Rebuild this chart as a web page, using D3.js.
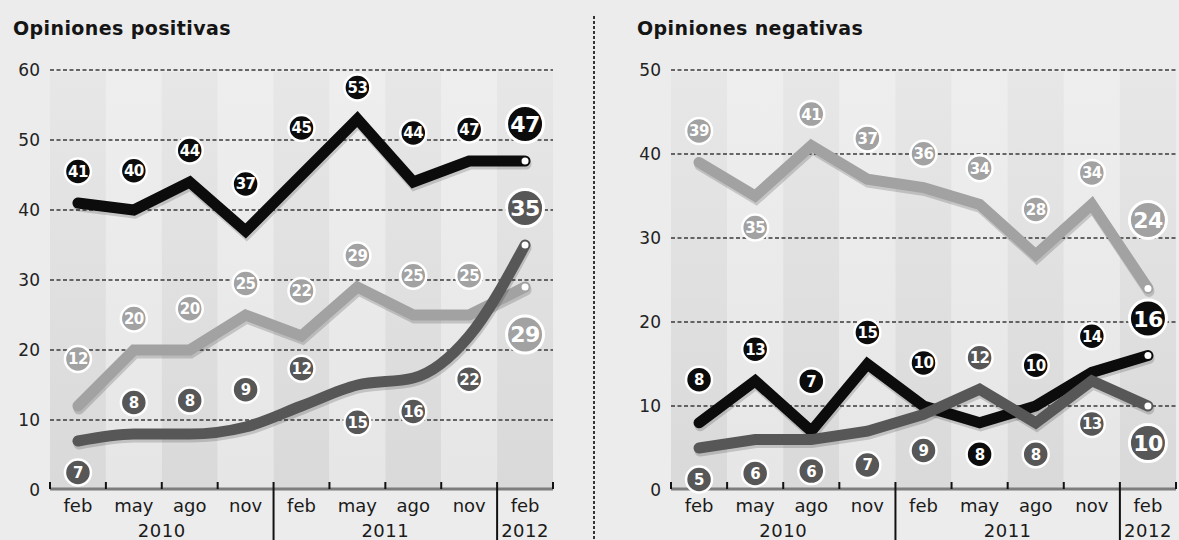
<!DOCTYPE html>
<html>
<head>
<meta charset="utf-8">
<script src="https://cdn.jsdelivr.net/npm/d3@7"></script>
<style>
  body { margin: 0; background: #ececec; }
  text { font-family: "DejaVu Sans", sans-serif; }
</style>
</head>
<body>
<div id="vis"></div>
<script>
// Frame
const FRAME_WIDTH = 1179;
const FRAME_HEIGHT = 540;
const AXIS_Y = 490;
const TOP_Y = 70;

// Data
const MONTHS = ["feb", "may", "ago", "nov", "feb", "may", "ago", "nov", "feb"];
const YEARS = ["2010", "2011", "2012"];
const YEAR_FIRST = [0, 4, 8];
const YEAR_LAST = [3, 7, 8];

const POS_TICKS = [0, 10, 20, 30, 40, 50, 60];
const POS_BLACK = [41, 40, 44, 37, 45, 53, 44, 47, 47];
const POS_LIGHT = [12, 20, 20, 25, 22, 29, 25, 25, 29];
const POS_DARK = [7, 8, 8, 9, 12, 15, 16, 22, 35];
const POS_BLACK_SIDE = ["u", "u", "u", "u", "u", "u", "u", "u", "u"];
const POS_LIGHT_SIDE = ["u", "u", "u", "u", "u", "u", "u", "u", "d"];
const POS_DARK_SIDE = ["d", "u", "u", "u", "u", "d", "d", "d", "u"];

const NEG_TICKS = [0, 10, 20, 30, 40, 50];
const NEG_LIGHT = [39, 35, 41, 37, 36, 34, 28, 34, 24];
const NEG_BLACK = [8, 13, 7, 15, 10, 8, 10, 14, 16];
const NEG_DARK = [5, 6, 6, 7, 9, 12, 8, 13, 10];
const NEG_LIGHT_SIDE = ["u", "d", "u", "u", "u", "u", "u", "u", "u"];
const NEG_BLACK_SIDE = ["u", "u", "u", "u", "u", "d", "u", "u", "u"];
const NEG_DARK_SIDE = ["d", "d", "d", "d", "d", "u", "d", "d", "d"];

const COLORS = { black: "#0c0c0c", light: "#a2a2a2", dark: "#575757" };

const FRAME = d3.select("#vis")
  .append("svg")
    .attr("width", FRAME_WIDTH)
    .attr("height", FRAME_HEIGHT);

const defs = FRAME.append("defs");
function grad(id, top, bottom) {
  const g = defs.append("linearGradient").attr("id", id)
    .attr("x1", 0).attr("y1", 0).attr("x2", 0).attr("y2", 1);
  g.append("stop").attr("offset", "0%").attr("stop-color", top);
  g.append("stop").attr("offset", "100%").attr("stop-color", bottom);
}
grad("bandDark", "#e7e7e7", "#d9d9d9");
grad("bandLight", "#eeeeee", "#e6e6e6");

// distance from point to label centre, so the circle clears the thick line
function labelDy(vals, i, side, R, X, Y) {
  const step = X.step();
  const cy = Y(vals[i]);
  let ext = 0;
  [-1, 1].forEach(d => {
    const j = i + d;
    if (j < 0 || j >= vals.length) return;
    const ny = cy + (Y(vals[j]) - cy) * R / step;
    ext = Math.max(ext, side == "u" ? cy - ny : ny - cy);
  });
  return (R + 16 + ext) * (side == "u" ? -1 : 1);
}

function drawPanel(p) {
  const G = FRAME.append("g");

  const X = d3.scaleBand()
    .domain(d3.range(MONTHS.length))
    .range([p.left, p.right])
    .paddingInner(0).paddingOuter(0);
  const Y = d3.scaleLinear()
    .domain([0, d3.max(p.ticks)])
    .range([AXIS_Y, TOP_Y]);
  const cx = i => X(i) + X.bandwidth() / 2;

  // title
  G.append("text")
    .attr("x", p.titleX).attr("y", 35)
    .attr("font-size", "19px").attr("font-weight", "bold")
    .attr("letter-spacing", "0.4px")
    .attr("fill", "#151515")
    .text(p.title);

  // column bands
  G.selectAll(".band")
    .data(d3.range(MONTHS.length))
    .enter()
    .append("rect")
      .attr("x", d => X(d))
      .attr("y", Y(d3.max(p.ticks)) + 2)
      .attr("width", X.bandwidth())
      .attr("height", AXIS_Y - Y(d3.max(p.ticks)) - 2)
      .attr("fill", d => d % 2 == 0 ? "url(#bandDark)" : "url(#bandLight)");

  // grid + y labels
  G.selectAll(".grid")
    .data(p.ticks.filter(t => t > 0))
    .enter()
    .append("line")
      .attr("x1", p.left).attr("x2", p.right)
      .attr("y1", d => Y(d)).attr("y2", d => Y(d))
      .attr("stroke", "#3a3a3a")
      .attr("stroke-width", 1.3)
      .attr("stroke-dasharray", "4,2.5");

  G.selectAll(".ylab")
    .data(p.ticks)
    .enter()
    .append("text")
      .attr("x", p.left - 10)
      .attr("y", d => Y(d))
      .attr("dy", "0.36em")
      .attr("text-anchor", "end")
      .attr("font-size", "17px")
      .attr("fill", "#222")
      .text(d => d);

  // x axis
  G.append("line")
    .attr("x1", p.left).attr("x2", p.right)
    .attr("y1", AXIS_Y - 1).attr("y2", AXIS_Y - 1)
    .attr("stroke", "#7d7d7d").attr("stroke-width", 3);

  const bounds = d3.range(MONTHS.length + 1);
  G.selectAll(".tick")
    .data(bounds.filter(b => !YEAR_FIRST.slice(1).includes(b)))
    .enter()
    .append("line")
      .attr("x1", d => d < MONTHS.length ? X(d) : p.right)
      .attr("x2", d => d < MONTHS.length ? X(d) : p.right)
      .attr("y1", AXIS_Y - 8).attr("y2", AXIS_Y - 1)
      .attr("stroke", "#111").attr("stroke-width", 2);

  G.selectAll(".sep")
    .data(YEAR_FIRST.slice(1))
    .enter()
    .append("line")
      .attr("x1", d => X(d)).attr("x2", d => X(d))
      .attr("y1", AXIS_Y - 8).attr("y2", FRAME_HEIGHT)
      .attr("stroke", "#111").attr("stroke-width", 2);

  G.selectAll(".month")
    .data(MONTHS)
    .enter()
    .append("text")
      .attr("x", (d, i) => cx(i))
      .attr("y", 512)
      .attr("text-anchor", "middle")
      .attr("font-size", "18px")
      .attr("fill", "#1a1a1a")
      .text(d => d);

  G.selectAll(".year")
    .data(YEARS)
    .enter()
    .append("text")
      .attr("x", (d, i) => (X(YEAR_FIRST[i]) + X(YEAR_LAST[i]) + X.bandwidth()) / 2)
      .attr("y", 537)
      .attr("text-anchor", "middle")
      .attr("font-size", "18px")
      .attr("letter-spacing", "0.5px")
      .attr("fill", "#1a1a1a")
      .text(d => d);

  // lines
  p.series.forEach(s => {
    const line = d3.line()
      .x((d, i) => cx(i))
      .y(d => Y(d))
      .curve(s.curve || d3.curveLinear);
    G.append("path")
      .attr("d", line(s.values))
      .attr("transform", "translate(1,3)")
      .attr("fill", "none")
      .attr("stroke", "rgba(0,0,0,0.16)")
      .attr("stroke-width", 11)
      .attr("stroke-linejoin", "miter")
      .attr("stroke-linecap", "round");
    G.append("path")
      .attr("d", line(s.values))
      .attr("fill", "none")
      .attr("stroke", s.color)
      .attr("stroke-width", 11)
      .attr("stroke-linejoin", "miter")
      .attr("stroke-linecap", "round");
    const last = s.values.length - 1;
    G.append("circle")
      .attr("cx", cx(last)).attr("cy", Y(s.values[last]))
      .attr("r", 3.5).attr("fill", "#fff");
  });

  // value labels
  p.series.forEach(s => {
    const last = s.values.length - 1;
    const lab = G.selectAll(null)
      .data(s.values)
      .enter()
      .append("g")
        .attr("transform", (d, i) => {
          const r = i == last ? 18.5 : 13;
          const dy = labelDy(s.values, i, s.side[i], r + 2.5, X, Y);
          return "translate(" + cx(i) + "," + (Y(d) + dy) + ")";
        });
    lab.append("circle")
      .attr("r", (d, i) => i == last ? 18.5 : 13)
      .attr("fill", s.color)
      .attr("stroke", "#fff")
      .attr("stroke-width", (d, i) => i == last ? 3 : 2.5);
    lab.append("text")
      .attr("text-anchor", "middle")
      .attr("dy", "0.36em")
      .attr("font-weight", "bold")
      .attr("font-size", (d, i) => i == last ? "22px" : "15px")
      .attr("letter-spacing", "-0.5px")
      .attr("fill", "#fff")
      .text(d => d);
  });
}

drawPanel({
  title: "Opiniones positivas", titleX: 13,
  left: 50, right: 553, ticks: POS_TICKS,
  series: [
    { values: POS_LIGHT, side: POS_LIGHT_SIDE, color: COLORS.light },
    { values: POS_BLACK, side: POS_BLACK_SIDE, color: COLORS.black },
    { values: POS_DARK, side: POS_DARK_SIDE, color: COLORS.dark, curve: d3.curveMonotoneX }
  ]
});

drawPanel({
  title: "Opiniones negativas", titleX: 637,
  left: 671, right: 1176, ticks: NEG_TICKS,
  series: [
    { values: NEG_LIGHT, side: NEG_LIGHT_SIDE, color: COLORS.light },
    { values: NEG_BLACK, side: NEG_BLACK_SIDE, color: COLORS.black },
    { values: NEG_DARK, side: NEG_DARK_SIDE, color: COLORS.dark }
  ]
});

// dashed divider between the two panels
FRAME.append("line")
  .attr("x1", 594).attr("x2", 594)
  .attr("y1", 16).attr("y2", FRAME_HEIGHT)
  .attr("stroke", "#333")
  .attr("stroke-width", 2)
  .attr("stroke-dasharray", "3,2");
</script>
</body>
</html>
